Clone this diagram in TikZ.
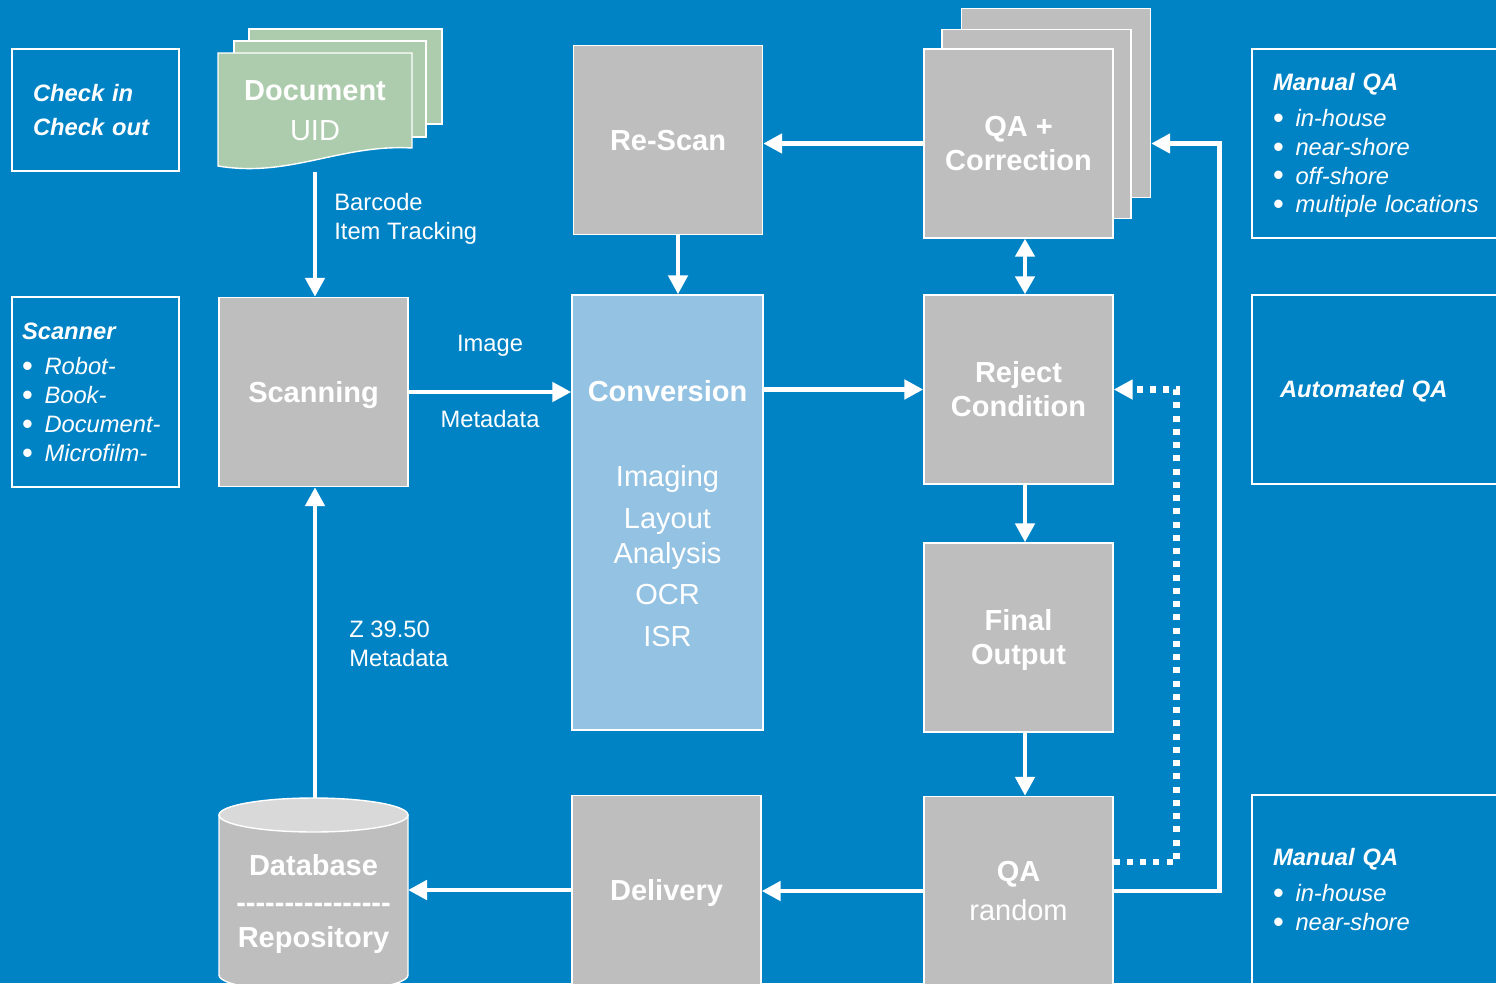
\documentclass[tikz,border=0pt]{standalone}
\usepackage{fontspec}
\setmainfont{Liberation Sans}
\usetikzlibrary{arrows.meta}
\definecolor{bgblue}{RGB}{0,131,197}
\definecolor{boxgray}{RGB}{190,190,190}
\definecolor{docgreen}{RGB}{173,204,173}
\definecolor{convblue}{RGB}{148,194,227}
\definecolor{dbcap}{RGB}{217,217,217}
\newcommand{\boxfont}{\fontsize{16.5}{19.8}\selectfont\bfseries}
\newcommand{\lblfont}{\fontsize{13.5}{16.4}\selectfont}
\newcommand{\linestrut}{\rule[-0.212em]{0pt}{1.117em}}
\newcommand{\qaitem}[1]{\makebox[0.45cm][l]{\upshape\raisebox{-0.08em}[0.5em][0pt]{\scalebox{1.3}{\textbullet}}}#1}
\newcommand{\hy}{\hbox{-}}

\begin{document}
\begin{tikzpicture}[x=0.02cm, y=-0.02cm,
		txt/.style={text=white, execute at begin node=\linestrut, execute at end node=\linestrut},
		proc/.style={txt, draw=white, line width=0.8pt, fill=boxgray, font=\boxfont, align=center, inner sep=0pt, minimum width=3.78cm, minimum height=3.78cm},
		sheet/.style={proc, fill=docgreen, minimum width=3.86cm, minimum height=1.9cm},
		panel/.style={txt, draw=white, line width=0.8pt, font=\lblfont\itshape, align=left, inner ysep=0pt},
		lbl/.style={txt, font=\lblfont, align=left, inner sep=0pt},
		flow/.style={white, line width=2.8pt, -{Triangle[length=0.38cm, width=0.38cm]}},
		biflow/.style={flow, {Triangle[length=0.36cm, width=0.38cm]}-{Triangle[length=0.36cm, width=0.38cm]}},
		dotflow/.style={flow, line width=0.13cm, dash pattern=on 0.12cm off 0.145cm}]
		\useasboundingbox (0,0) rectangle (1496,983);
		\clip (0,0) rectangle (1496,983);
		\fill[bgblue] (0,0) rectangle (1496,983);
		% side panels
		\node[panel, text width=2.5cm, inner xsep=0.42cm, minimum height=2.44cm] (checkin) at (95.5,110) {\linestrut\bfseries Check in\\[3pt]\bfseries Check out};
		\node[panel, text width=2.94cm, inner xsep=0.2cm, minimum height=3.8cm] (scanner) at (95.5,392) {\linestrut{\bfseries Scanner}\\[4pt]\qaitem{Robot-}\\\qaitem{Book-}\\\qaitem{Document-}\\\qaitem{Microfilm-}};
		\node[panel, text width=4.16cm, inner xsep=0.42cm, minimum height=3.78cm] (manqa) at (1377,143.5) {\linestrut{\bfseries Manual QA}\\[4pt]\qaitem{in-house}\\\qaitem{near-shore}\\\qaitem{off-shore}\\\qaitem{multiple locations}};
		\node[panel, text width=3.88cm, inner xsep=0.56cm, minimum height=3.78cm] (autoqa) at (1377,389.5) {\bfseries Automated QA};
		\node[panel, text width=4.16cm, inner xsep=0.42cm, minimum height=3.8cm] (manqab) at (1377,890) {\linestrut{\bfseries Manual QA}\\[4pt]\qaitem{in-house}\\\qaitem{near-shore}};
		% document stack
		\node[sheet] (docc) at (345.5,76.5) {};
		\node[sheet, minimum width=3.84cm, minimum height=1.92cm] (docb) at (330,89) {};
		\filldraw[fill=docgreen, draw=white, line width=0.8pt] (218,53) -- (412,53) -- (412,148) .. controls (340,144) and (290,178) .. (218,166) -- cycle;
		\node[txt, font=\boxfont, align=center] (doc) at (315,110.5) {\linestrut Document\\[2.5pt]\mdseries UID};
		\coordinate (docbot) at (315,172);
		% process boxes
		\node[proc] (scan) at (313.5,392) {Scanning};
		\node[proc] (rescan) at (668,140) {Re-Scan};
		\node[proc, fill=convblue, minimum width=3.82cm, minimum height=8.7cm] (conv) at (667.5,512.5) {};
		\node[txt, font=\boxfont] (convhead) at (667.5,391) {Conversion};
		\node[txt, font=\boxfont\mdseries, align=center] (convsteps) at (667.5,556.5) {\linestrut Imaging\\[4pt]Layout\\Analysis\\[4pt]OCR\\[4pt]ISR};
		\node[proc] (qacorc) at (1056,103) {};
		\node[proc] (qacorb) at (1036.5,124) {};
		\node[proc] (qacor) at (1018.5,143.5) {\linestrut QA +\\Correction};
		\node[proc] (reject) at (1018.5,389.5) {\linestrut Reject\\Condition};
		\node[proc] (final) at (1018.5,637.5) {\linestrut Final\\Output};
		\node[proc] (qarand) at (1018.5,891) {\linestrut QA\\[2pt]\mdseries random};
		\node[proc] (deliv) at (666.5,890) {Delivery};
		% database
		\filldraw[fill=boxgray, draw=white, line width=0.8pt] (219,815) -- (219,975) arc[start angle=180, end angle=0, x radius=94.5, y radius=17] -- (408,815) -- cycle;
		\filldraw[fill=dbcap, draw=white, line width=0.8pt] (313.5,815) ellipse [x radius=94.5, y radius=17];
		\node[txt, font=\boxfont, align=center] (db) at (313.5,901.5) {\linestrut Database\\[1pt]\hy\hy\hy\hy\hy\hy\hy\hy\hy\hy\hy\hy\hy\hy\hy\hy\\Repository};
		\coordinate (dbtop) at (315,798);
		\coordinate (dbeast) at (408,890);
		% connectors
		\draw[flow] (docbot) -- (docbot |- scan.north);
		\draw[flow] (scan.east) -- (conv.west |- scan.east);
		\draw[flow] (conv.east |- reject.west) -- (reject.west);
		\draw[flow] (qacor.west) -- (rescan.east |- qacor.west);
		\draw[flow] ([xshift=0.2cm]rescan.south) -- ([xshift=0.2cm]rescan.south |- conv.north);
		\draw[biflow] ([xshift=0.13cm]qacor.south) -- ([xshift=0.13cm]reject.north);
		\draw[flow] ([xshift=0.13cm]reject.south) -- ([xshift=0.13cm]final.north);
		\draw[flow] ([xshift=0.13cm]final.south) -- ([xshift=0.13cm]qarand.north);
		\draw[flow] (qarand.west) -- (deliv.east |- qarand.west);
		\draw[flow] (deliv.west) -- (dbeast);
		\draw[flow] (dbtop) -- (dbtop |- scan.south);
		\draw[flow] (qarand.east) -- ++(106,0) |- (qacor.east -| qacorc.east);
		\draw[dotflow] ([yshift=0.58cm]qarand.east) -- ++(63,0) |- (reject.east);
		% labels
		\node[lbl, anchor=west] (barcode) at (334,216.5) {\linestrut Barcode\\Item Tracking};
		\node[lbl] (imglbl) at (490,343) {Image};
		\node[lbl] (metalbl) at (490,419) {Metadata};
		\node[lbl, anchor=west] (z3950) at (349,643.5) {\linestrut Z 39.50\\Metadata};
	\end{tikzpicture}
\end{document}
